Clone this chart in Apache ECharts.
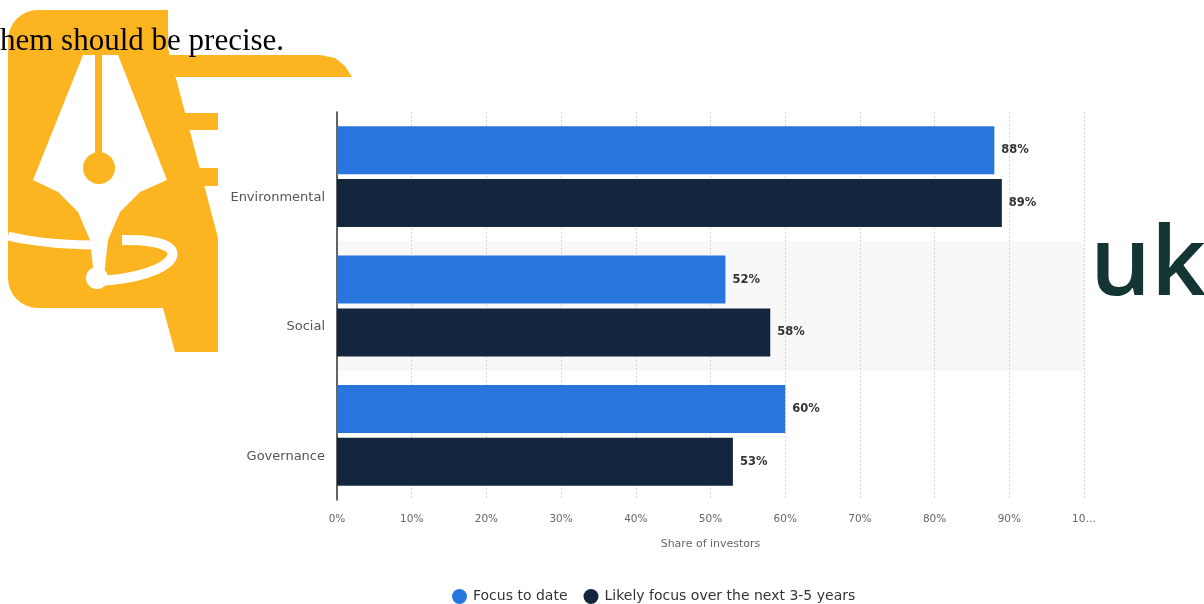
<!DOCTYPE html>
<html><head><meta charset="utf-8">
<script src="https://cdn.jsdelivr.net/npm/echarts@6/dist/echarts.min.js"></script>
<style>html,body{margin:0;padding:0;background:#fff}#c{width:1204px;height:604px}</style>
</head><body><div id="c"></div>
<script>
const categories = ['Environmental', 'Social', 'Governance'];
const focusToDate = [88, 52, 60];
const likelyFocus = [89, 58, 53];
const seriesNames = ['Focus to date', 'Likely focus over the next 3-5 years'];
const tickLabels = ['0%', '10%', '20%', '30%', '40%', '50%', '60%', '70%', '80%', '90%', '10…'];
const axisName = 'Share of investors';

const Y = '#fcb520';
const font = 'DejaVu Sans';
const chart = echarts.init(document.getElementById('c'), null, {renderer: 'canvas'});

const labelOpt = {
  show: true, position: 'right', distance: 7,
  formatter: p => p.value + '%',
  color: '#333', fontSize: 11.5, fontFamily: font, fontWeight: 'bold'
};

chart.setOption({
  backgroundColor: '#fff',
  animation: false,
  graphic: [
    {type: 'rect', z: -15, shape: {x: 8, y: 10, width: 160, height: 298, r: [30, 0, 0, 30]}, style: {fill: Y}},
    {type: 'polygon', z: -15, shape: {points: [[140, 10], [158, 10], [218, 238], [218, 352], [175, 352], [163, 308], [140, 308]]}, style: {fill: Y}},
    {type: 'polygon', z: -15, shape: {points: [[165, 55], [320, 55], [335, 58], [345, 66], [352, 77], [176, 77]]}, style: {fill: Y}},
    {type: 'rect', z: -15, shape: {x: 180, y: 113, width: 38, height: 17}, style: {fill: Y}},
    {type: 'rect', z: -15, shape: {x: 195, y: 168, width: 23, height: 18}, style: {fill: Y}},
    {type: 'polygon', z: -14, shape: {points: [[83, 55], [118, 55], [167, 180], [140, 192], [120, 212], [108, 240], [104, 276], [94, 276], [90, 240], [78, 212], [58, 192], [33, 180]]}, style: {fill: '#fff'}},
    {type: 'rect', z: -13, shape: {x: 95, y: 55, width: 7, height: 110}, style: {fill: Y}},
    {type: 'circle', z: -13, shape: {cx: 99, cy: 168, r: 16}, style: {fill: Y}},
    {type: 'bezierCurve', z: -12, shape: {x1: 8, y1: 236, cpx1: 40, cpy1: 244, x2: 92, y2: 245}, style: {fill: null, stroke: '#fff', lineWidth: 9}},
    {type: 'bezierCurve', z: -12, shape: {x1: 97, y1: 281, cpx1: 178, cpy1: 278, cpx2: 205, cpy2: 238, x2: 122, y2: 240}, style: {fill: null, stroke: '#fff', lineWidth: 10}},
    {type: 'circle', z: -12, shape: {cx: 97, cy: 278, r: 11}, style: {fill: '#fff'}},
    {type: 'text', z: -10, left: 0, top: 26, style: {text: 'hem should be precise.', font: '31px "Liberation Serif"', fill: '#000'}},
    {type: 'rect', z: -11, shape: {x: 218, y: 77, width: 877, height: 527}, style: {fill: '#fff'}},
    {type: 'text', z: -11, left: 1090, top: 220, style: {text: 'uk', font: '600 96px "Open Sans"', fill: '#133634'}}
  ],
  legend: {
    data: seriesNames,
    left: 447, top: 584,
    icon: 'circle', itemWidth: 15, itemHeight: 15, itemGap: 16,
    textStyle: {color: '#333', fontSize: 14, fontFamily: font, padding: [0, 0, 0, 1]}
  },
  grid: {left: 337, right: 120, top: 112, bottom: 104, containLabel: false},
  xAxis: {
    type: 'value', min: 0, max: 100, interval: 10,
    name: axisName, nameLocation: 'middle', nameGap: 39,
    nameTextStyle: {color: '#666', fontSize: 11, fontFamily: font},
    axisLine: {show: false}, axisTick: {show: false},
    axisLabel: {color: '#666', fontSize: 10.5, fontFamily: font, margin: 14,
      formatter: v => tickLabels[Math.round(v / 10)]},
    splitLine: {show: true, lineStyle: {color: '#d4d4d4', type: [2, 2], width: 1}}
  },
  yAxis: {
    type: 'category', data: categories, inverse: true,
    axisLine: {show: true, lineStyle: {color: '#333', width: 1.5}},
    axisTick: {show: false},
    axisLabel: {color: '#555', fontSize: 13, fontFamily: font, margin: 12, lineHeight: 42,
      formatter: v => '\n' + v},
    splitArea: {show: true, areaStyle: {color: ['rgba(0,0,0,0)', '#f8f8f8']}}
  },
  series: [
    {name: seriesNames[0], type: 'bar', data: focusToDate, barWidth: 48, barGap: '10%',
      itemStyle: {color: '#2876dd'}, label: labelOpt},
    {name: seriesNames[1], type: 'bar', data: likelyFocus, barWidth: 48,
      itemStyle: {color: '#13263d'}, label: labelOpt}
  ]
});
</script></body></html>
